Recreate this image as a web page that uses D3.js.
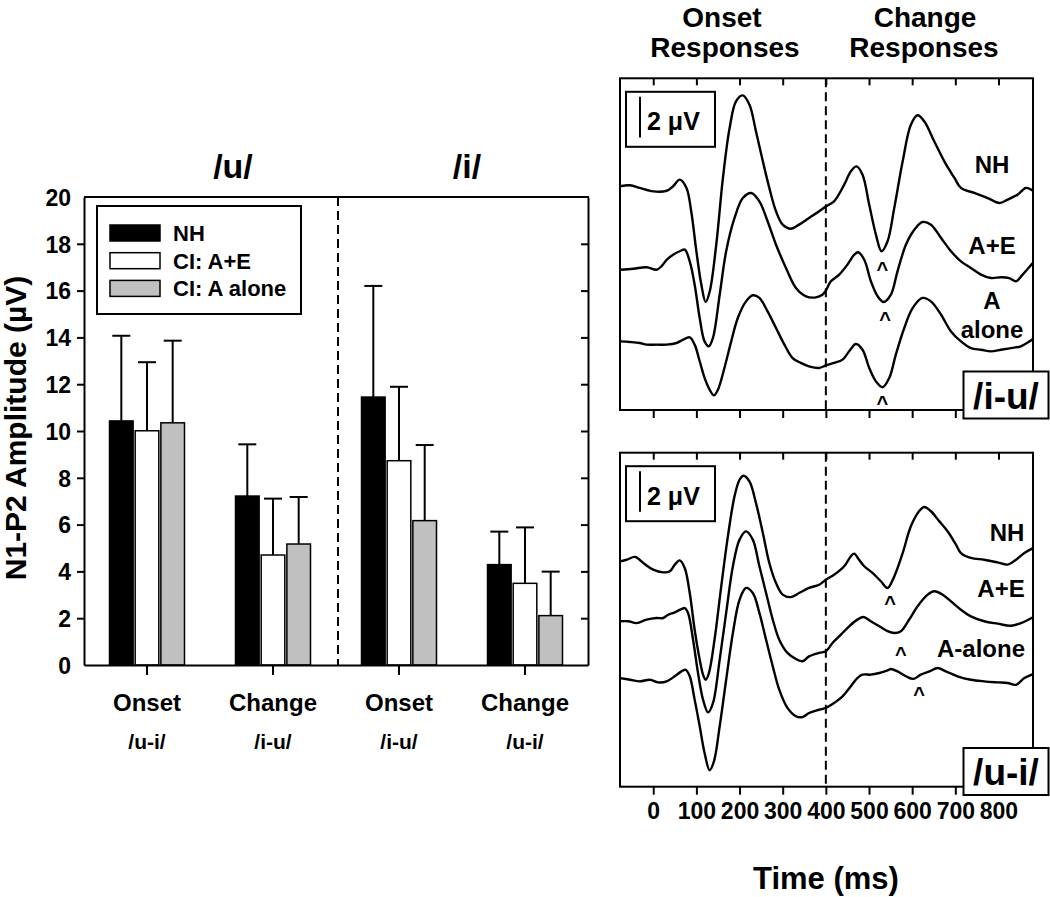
<!DOCTYPE html>
<html><head><meta charset="utf-8">
<script src="https://cdn.jsdelivr.net/npm/d3@7"></script>
<style>
body{margin:0;background:#fff}
text{font-family:"Liberation Sans",Arial,Helvetica,sans-serif;font-weight:bold;fill:#000}
</style>
</head><body><svg id="chart" width="1050" height="897"></svg>
<script>
// ---------- Bar chart data ----------
const categories = ["Onset", "Change", "Onset", "Change"];
const subLabels = ["/u-i/", "/i-u/", "/i-u/", "/u-i/"];
const vowelTitles = ["/u/", "/i/"];
const seriesNames = ["NH", "CI: A+E", "CI: A alone"];
const seriesColors = ["#000000", "#ffffff", "#c0c0c0"];
const meanNH = [10.43, 7.22, 11.45, 4.29];
const meanAE = [10.01, 4.70, 8.73, 3.49];
const meanAalone = [10.35, 5.17, 6.17, 2.11];
const upperNH = [14.07, 9.43, 16.20, 5.70];
const upperAE = [12.94, 7.11, 11.89, 5.88];
const upperAalone = [13.86, 7.18, 9.40, 3.99];
const yTickValues = [0, 2, 4, 6, 8, 10, 12, 14, 16, 18, 20];

// ---------- ERP waveform data: [time ms, amplitude µV above panel floor] ----------
const timeTicks = [0, 100, 200, 300, 400, 500, 600, 700, 800];
const topNH = [[-77,11.02],[-54,11.07],[-31,10.94],[0,10.77],[31,10.80],[46,11.02],[61.5,11.35],[77,10.94],[88,9.79],[100,7.82],[111.5,6.17],[121.5,5.32],[131,5.85],[146,8.14],[161.5,11.43],[177,13.89],[192,15.21],[207.5,15.50],[223,15.04],[238,13.73],[254,12.25],[269,10.94],[284.5,9.79],[300,9.13],[319,8.93],[338,9.13],[361,9.46],[384.5,9.79],[400,10.03],[419,10.28],[442.5,11.10],[458,11.76],[471,12.00],[485,11.59],[500.5,10.11],[516,8.64],[529,7.82],[543,8.31],[558.5,9.95],[578,12.25],[597,14.05],[612.5,14.52],[628,14.22],[651,13.24],[674.5,12.25],[698,11.43],[713,10.94],[744,10.69],[775,10.44],[802,10.20],[821,10.36],[844.5,10.61],[864,10.94],[880,10.80]];
const topAE = [[-77,6.91],[-46,6.96],[-15,7.03],[7.7,6.91],[19,7.08],[31,7.40],[46,7.65],[61.5,7.82],[73,7.90],[84.6,7.32],[96,6.17],[107.7,4.53],[119,3.38],[129,3.14],[138.4,3.55],[154,5.68],[169,7.82],[188.4,9.46],[207.6,10.44],[227,10.69],[246,10.28],[265,9.30],[284.5,8.14],[307.6,7.00],[330.7,6.01],[354,5.60],[377,5.55],[392,5.68],[400,5.88],[411.6,6.34],[431,6.67],[450,7.16],[465.7,7.65],[475,7.77],[489,7.40],[504.4,6.34],[520,5.60],[534,5.32],[550.7,5.68],[566,6.83],[585.5,8.14],[605,8.88],[624,9.26],[643.5,9.13],[667,8.47],[690,7.82],[713,7.32],[736,7.00],[759.5,6.67],[782.6,6.50],[806,6.54],[825,6.50],[840.6,6.34],[856,6.67],[880,7.25]];
const topAalone = [[-77,3.38],[-54,3.35],[-31,3.30],[-15,3.22],[7.7,3.22],[31,3.22],[54,3.30],[69,3.46],[84.6,3.58],[96,3.22],[107.7,2.40],[119,1.58],[130.7,1.00],[140.7,0.72],[150,1.00],[165,2.07],[180.7,3.38],[196,4.53],[215,5.35],[230.7,5.65],[246,5.52],[265,4.86],[284.5,4.04],[304,3.22],[323,2.56],[342,2.32],[361,2.15],[384.5,2.07],[400,2.20],[419,2.32],[438.7,2.48],[454,2.89],[469.6,3.25],[485,2.97],[500.5,2.07],[516,1.41],[531.4,1.12],[547,1.58],[562,2.72],[581.7,4.04],[601,5.02],[624,5.52],[643.5,5.35],[667,4.69],[690,3.87],[713,3.38],[736,3.05],[759.5,2.97],[782.6,2.89],[806,2.97],[829,3.05],[852,3.14],[880,3.50]];
const botNH = [[-77,11.10],[-61.5,11.18],[-42,11.32],[-23,11.02],[0,10.69],[23,10.56],[38.5,10.61],[50,10.94],[61.5,11.15],[73,10.77],[84.6,9.54],[96,7.73],[107.7,6.26],[115.4,5.52],[121.5,5.27],[129,5.60],[142,7.24],[157.6,9.87],[173,12.33],[188.4,14.31],[200,15.12],[209,15.32],[223,15.04],[238,13.98],[254,12.50],[269,11.02],[284.5,10.03],[300,9.46],[319,9.34],[338,9.54],[361,9.79],[384.5,9.95],[400,10.20],[419,10.44],[442.5,10.86],[458,11.35],[465.7,11.48],[477,11.18],[489,10.86],[508,10.53],[527.5,10.12],[543,9.79],[558.5,10.36],[578,11.51],[597,12.83],[616,13.57],[628,13.78],[643.5,13.57],[663,13.07],[682,12.58],[701.5,11.92],[713,11.51],[736,11.27],[767,11.18],[798,11.05],[821,10.94],[840.6,11.18],[860,11.51],[880,11.75]];
const botAE = [[-77,8.15],[-57.7,8.15],[-38.5,8.06],[-15.4,8.23],[7.7,8.31],[23,8.31],[34.6,8.47],[50,8.59],[65.4,8.75],[73,8.80],[80.7,8.56],[92.3,7.24],[103.8,5.60],[115.4,4.29],[127,3.66],[138.4,4.12],[154,6.26],[169,8.56],[184.6,10.86],[200,12.17],[215,12.58],[230.7,12.17],[246,10.86],[261.5,9.54],[277,8.23],[292,7.24],[311,6.59],[330.7,6.29],[346,6.18],[361,6.42],[384.5,6.59],[400,6.67],[415.5,7.08],[435,7.49],[454,7.90],[473,8.23],[487,8.36],[504,8.15],[524,7.90],[543,7.66],[558.5,7.57],[574,7.66],[593,8.23],[612.6,8.89],[636,9.46],[651,9.63],[670.6,9.46],[690,9.13],[713,8.72],[736,8.39],[767,8.15],[798,8.03],[829,7.93],[852,8.06],[880,8.35]];
const botAalone = [[-77,5.35],[-54,5.27],[-31,5.19],[-7.7,5.27],[11.5,5.14],[31,5.19],[50,5.44],[65.4,5.68],[75.4,5.76],[84.6,5.44],[96,4.29],[107.7,2.98],[119,1.66],[130.7,0.81],[140.7,1.25],[154,2.98],[169,5.27],[184.6,7.57],[200,9.21],[215,9.79],[230.7,9.54],[246,8.56],[261.5,7.24],[277,5.93],[292,4.78],[311,3.88],[330.7,3.47],[346,3.43],[361,3.63],[384.5,3.79],[400,3.88],[419,4.12],[438.7,4.45],[458,4.95],[473,5.35],[485,5.52],[504,5.52],[524,5.60],[543,5.73],[550.7,5.80],[566,5.68],[585.5,5.44],[603,5.31],[620,5.52],[640,5.68],[659,5.85],[678,5.68],[705,5.44],[736,5.27],[767,5.19],[798,5.14],[821,5.11],[840.6,5.02],[860,5.35],[880,5.55]];
// caret markers [time ms, µV level]
const topCarets = [[531, 7.08], [537, 4.62], [531, 0.51]];
const botCarets = [[549, 9.21], [574, 6.67], [616, 4.70]];
const topTraceLabels = ["NH", "A+E", "A", "alone"];
const botTraceLabels = ["NH", "A+E", "A-alone"];

const svg = d3.select("#chart");

// =================== LEFT: BAR CHART ===================
const L = {left: 84, right: 588, top: 197, bottom: 665};
const x0 = d3.scaleBand().domain(d3.range(categories.length)).range([L.left, L.right]);
const x1 = d3.scaleBand().domain(seriesNames).range([0, 75]).paddingInner(0.08);
const y = d3.scaleLinear().domain([0, 20]).range([L.bottom, L.top]);
const means = [meanNH, meanAE, meanAalone];
const uppers = [upperNH, upperAE, upperAalone];

const gb = svg.append("g");
seriesNames.forEach((s, si) => {
  categories.forEach((c, ci) => {
    const cx = x0(ci) + x0.bandwidth() / 2 - 37.5 + x1(s) + x1.bandwidth() / 2;
    gb.append("line").attr("x1", cx).attr("x2", cx)
      .attr("y1", y(means[si][ci])).attr("y2", y(uppers[si][ci]))
      .attr("stroke", "#000").attr("stroke-width", 2);
    gb.append("line").attr("x1", cx - 9).attr("x2", cx + 9)
      .attr("y1", y(uppers[si][ci])).attr("y2", y(uppers[si][ci]))
      .attr("stroke", "#000").attr("stroke-width", 2);
  });
});
seriesNames.forEach((s, si) => {
  gb.selectAll(null).data(means[si]).join("rect")
    .attr("x", (d, ci) => x0(ci) + x0.bandwidth() / 2 - 37.5 + x1(s))
    .attr("width", x1.bandwidth())
    .attr("y", d => y(d))
    .attr("height", d => y(0) - y(d))
    .attr("fill", seriesColors[si])
    .attr("stroke", "#000").attr("stroke-width", 1.5);
});

const yAxisL = gb.append("g").attr("transform", `translate(${L.left},0)`)
  .call(d3.axisLeft(y).tickValues(yTickValues).tickSize(7).tickSizeOuter(0).tickPadding(6));
yAxisL.selectAll("text").style("font-size", "23px").attr("dy", "0.36em");
yAxisL.selectAll(".tick line").filter(d => d === 0 || d === 20).remove();
const yAxisR = gb.append("g").attr("transform", `translate(${L.right},0)`)
  .call(d3.axisLeft(y).tickValues(yTickValues).tickSize(7).tickSizeOuter(0).tickFormat(""));
yAxisR.selectAll(".tick line").filter(d => d === 0 || d === 20).remove();
const xAxisB = gb.append("g").attr("transform", `translate(0,${L.bottom})`)
  .call(d3.axisBottom(x0).tickSize(10).tickSizeOuter(0).tickFormat(""));
[yAxisL, yAxisR, xAxisB].forEach(a => {
  a.select(".domain").attr("stroke-width", 2);
  a.selectAll(".tick line").attr("stroke-width", 2);
});
gb.append("line").attr("x1", L.left).attr("x2", L.right + 1).attr("y1", L.top).attr("y2", L.top)
  .attr("stroke", "#000").attr("stroke-width", 2);
categories.forEach((c, ci) => {
  const cx = x0(ci) + x0.bandwidth() / 2;
  gb.append("text").attr("x", cx).attr("y", 711).attr("text-anchor", "middle")
    .style("font-size", "24px").text(c);
  gb.append("text").attr("x", cx).attr("y", 749).attr("text-anchor", "middle")
    .style("font-size", "21px").text(subLabels[ci]);
});
const divX = x0(2);
gb.append("line").attr("x1", divX + 2).attr("x2", divX + 2).attr("y1", L.top).attr("y2", L.bottom)
  .attr("stroke", "#000").attr("stroke-width", 2).attr("stroke-dasharray", "9,5");
[[233, vowelTitles[0]], [467, vowelTitles[1]]].forEach(([tx, t]) => {
  gb.append("text").attr("x", tx).attr("y", 178).attr("text-anchor", "middle")
    .style("font-size", "34px").text(t);
});
gb.append("text").attr("transform", "translate(26,428) rotate(-90)").attr("text-anchor", "middle")
  .style("font-size", "30px").text("N1-P2 Amplitude (\u00B5V)");
const lg = gb.append("g");
lg.append("rect").attr("x", 97).attr("y", 206).attr("width", 204).attr("height", 108)
  .attr("fill", "#fff").attr("stroke", "#000").attr("stroke-width", 2);
seriesNames.forEach((s, si) => {
  const yy = 225 + si * 27.7;
  lg.append("rect").attr("x", 110).attr("y", yy).attr("width", 50).attr("height", 16)
    .attr("fill", seriesColors[si]).attr("stroke", "#000").attr("stroke-width", 1.5);
  lg.append("text").attr("x", 173).attr("y", yy + 16).style("font-size", "22px").text(s);
});

// =================== RIGHT: ERP PANELS ===================
const xt = d3.scaleLinear().domain([-77, 880]).range([620, 1033]);
const line = d3.line().x(d => xt(d[0])).curve(d3.curveCatmullRom.alpha(0.5));
const uvPx = 20.3;

function panel(top, bottom, traces, carets, labels, boxLabel, boxY, showLabels) {
  const yp = d3.scaleLinear().domain([0, (bottom - top) / uvPx]).range([bottom, top]);
  const g = svg.append("g");
  g.append("rect").attr("x", xt.range()[0]).attr("y", top)
    .attr("width", xt.range()[1] - xt.range()[0]).attr("height", bottom - top)
    .attr("fill", "none").attr("stroke", "#000").attr("stroke-width", 2);
  const ta = g.append("g").attr("transform", `translate(0,${top})`)
    .call(d3.axisTop(xt).tickValues(timeTicks).tickSize(-7).tickSizeOuter(0).tickFormat(""));
  const ba = g.append("g").attr("transform", `translate(0,${bottom})`)
    .call(d3.axisBottom(xt).tickValues(timeTicks).tickSize(8).tickSizeOuter(0).tickPadding(8)
      .tickFormat(showLabels ? d3.format("d") : ""));
  [ta, ba].forEach(a => { a.select(".domain").remove(); a.selectAll(".tick line").attr("stroke-width", 2); });
  ba.selectAll("text").style("font-size", "23px");
  g.append("line").attr("x1", xt(400)).attr("x2", xt(400)).attr("y1", top).attr("y2", bottom)
    .attr("stroke", "#000").attr("stroke-width", 2).attr("stroke-dasharray", "9,5");
  line.y(d => yp(d[1]));
  traces.forEach(tr => {
    g.append("path").attr("d", line(tr)).attr("fill", "none")
      .attr("stroke", "#000").attr("stroke-width", 2.4);
  });
  carets.forEach(c => {
    g.append("text").attr("x", xt(c[0])).attr("y", yp(c[1]) + 10).attr("text-anchor", "middle")
      .style("font-size", "20px").text("^");
  });
  labels.forEach(l => {
    g.append("text").attr("x", l[0]).attr("y", l[1]).attr("text-anchor", "middle")
      .style("font-size", "24px").text(l[2]);
  });
  g.append("rect").attr("x", 626).attr("y", top + 13.5).attr("width", 89).attr("height", 55)
    .attr("fill", "#fff").attr("stroke", "#000").attr("stroke-width", 2);
  const barTop = top + 18.5;
  g.append("line").attr("x1", 640).attr("x2", 640).attr("y1", barTop)
    .attr("y2", barTop + (yp(0) - yp(2))).attr("stroke", "#000").attr("stroke-width", 2);
  g.append("text").attr("x", 647).attr("y", top + 52).style("font-size", "25px").text("2 \u03BCV");
  g.append("rect").attr("x", 963.5).attr("y", boxY).attr("width", 85).attr("height", 47)
    .attr("fill", "#fff").attr("stroke", "#000").attr("stroke-width", 2);
  g.append("text").attr("x", 1006).attr("y", boxY + 37).attr("text-anchor", "middle")
    .style("font-size", "37px").text(boxLabel);
}

panel(78.3, 410, [topNH, topAE, topAalone], topCarets,
  [[992, 173, topTraceLabels[0]], [992, 254, topTraceLabels[1]], [992, 309, topTraceLabels[2]], [992, 338, topTraceLabels[3]]],
  "/i-u/", 371.5, false);
panel(452.7, 786.7, [botNH, botAE, botAalone], botCarets,
  [[1007, 541, botTraceLabels[0]], [1001, 597, botTraceLabels[1]], [981, 657, botTraceLabels[2]]],
  "/u-i/", 748, true);

const hd = svg.append("g");
[[722, 27, "Onset"], [725, 57, "Responses"], [925, 27, "Change"], [924, 57, "Responses"]].forEach(h => {
  hd.append("text").attr("x", h[0]).attr("y", h[1]).attr("text-anchor", "middle")
    .style("font-size", "28px").text(h[2]);
});
hd.append("text").attr("x", 826).attr("y", 889).attr("text-anchor", "middle")
  .style("font-size", "31px").text("Time (ms)");
</script>
</body></html>
